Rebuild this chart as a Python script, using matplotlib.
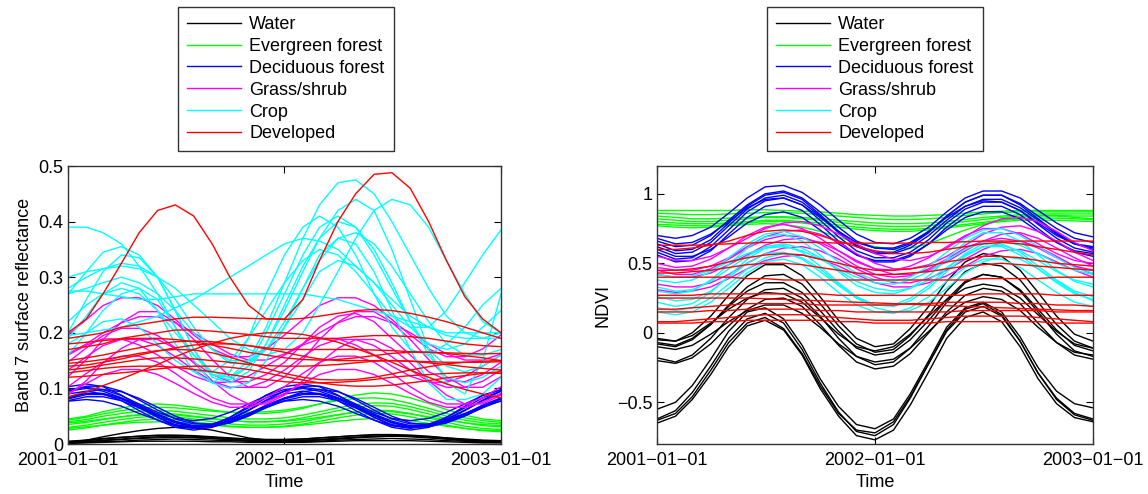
import matplotlib
matplotlib.use('Agg')
import matplotlib.pyplot as plt
import pandas as pd

################# DATOS ############################

# muestras mensuales de 2001-01-01 a 2003-01-01 (25 fechas)
FECHAS = pd.date_range('2001-01-01', '2003-01-01', freq='MS')

CLASES = ['Water', 'Evergreen forest', 'Deciduous forest', 'Grass/shrub', 'Crop', 'Developed']
COLORES = ['#000000', '#00ff00', '#0000ff', '#ff00ff', '#00ffff', '#ff0000']

TICKS_X = ['2001-01-01', '2002-01-01', '2003-01-01']
ETIQUETAS_X = ['2001\u221201\u221201', '2002\u221201\u221201', '2003\u221201\u221201']

TICKS_Y_B7 = [0, 0.1, 0.2, 0.3, 0.4, 0.5]
ETIQUETAS_Y_B7 = ['0', '0.1', '0.2', '0.3', '0.4', '0.5']
TICKS_Y_NDVI = [-0.5, 0, 0.5, 1]
ETIQUETAS_Y_NDVI = ['\u22120.5', '0', '0.5', '1']

################# PANEL 1: BANDA 7 ############################

AGUA_B7 = [
    [0.004,0.006,0.009,0.012,0.014,0.016,0.016,0.015,0.013,0.011,0.009,0.008,0.008,0.009,0.011,0.013,0.015,0.017,0.017,0.016,0.014,0.011,0.008,0.006,0.005],
    [0.003,0.004,0.006,0.008,0.010,0.011,0.012,0.011,0.010,0.008,0.007,0.006,0.006,0.007,0.008,0.010,0.012,0.013,0.014,0.013,0.011,0.009,0.007,0.005,0.004],
    [0.002,0.003,0.004,0.005,0.007,0.008,0.009,0.008,0.007,0.006,0.005,0.004,0.004,0.004,0.005,0.007,0.008,0.009,0.010,0.009,0.008,0.006,0.005,0.003,0.003],
    [0.003,0.007,0.013,0.019,0.024,0.028,0.030,0.029,0.025,0.018,0.011,0.007,0.006,0.006,0.007,0.009,0.011,0.013,0.014,0.014,0.012,0.010,0.007,0.005,0.004],
    [0.005,0.007,0.010,0.012,0.014,0.015,0.015,0.014,0.012,0.010,0.009,0.008,0.008,0.009,0.011,0.013,0.015,0.016,0.016,0.015,0.013,0.011,0.009,0.007,0.006],
    [0.001,0.002,0.003,0.004,0.005,0.005,0.005,0.005,0.004,0.004,0.003,0.003,0.003,0.003,0.004,0.005,0.006,0.006,0.006,0.006,0.005,0.004,0.003,0.002,0.002],
    [0.002,0.004,0.007,0.009,0.011,0.013,0.013,0.012,0.010,0.008,0.006,0.005,0.005,0.006,0.008,0.010,0.012,0.014,0.015,0.014,0.012,0.009,0.006,0.004,0.003],
]

PERENNE_B7 = [
    [0.045,0.050,0.058,0.065,0.070,0.072,0.070,0.066,0.061,0.057,0.055,0.055,0.058,0.064,0.072,0.081,0.088,0.092,0.090,0.083,0.073,0.062,0.052,0.045,0.042],
    [0.040,0.044,0.050,0.055,0.059,0.060,0.059,0.055,0.051,0.047,0.045,0.045,0.047,0.052,0.058,0.065,0.071,0.074,0.073,0.067,0.059,0.050,0.043,0.038,0.036],
    [0.035,0.039,0.044,0.049,0.053,0.055,0.054,0.050,0.046,0.042,0.040,0.040,0.042,0.047,0.053,0.060,0.066,0.069,0.068,0.062,0.054,0.045,0.038,0.033,0.031],
    [0.030,0.034,0.039,0.044,0.048,0.050,0.049,0.045,0.040,0.036,0.034,0.034,0.036,0.040,0.046,0.052,0.058,0.061,0.060,0.055,0.047,0.039,0.032,0.028,0.026],
    [0.025,0.029,0.034,0.039,0.043,0.045,0.044,0.040,0.036,0.032,0.030,0.030,0.032,0.036,0.041,0.047,0.052,0.055,0.054,0.049,0.042,0.034,0.028,0.024,0.022],
    [0.038,0.041,0.045,0.049,0.052,0.053,0.052,0.049,0.045,0.042,0.040,0.040,0.041,0.044,0.048,0.053,0.057,0.059,0.058,0.054,0.049,0.043,0.038,0.035,0.033],
    [0.043,0.048,0.054,0.060,0.064,0.066,0.065,0.062,0.059,0.057,0.057,0.058,0.061,0.066,0.072,0.078,0.082,0.083,0.080,0.073,0.064,0.055,0.047,0.042,0.039],
    [0.028,0.031,0.034,0.037,0.039,0.040,0.039,0.037,0.034,0.031,0.030,0.030,0.031,0.034,0.037,0.041,0.044,0.046,0.045,0.042,0.037,0.032,0.028,0.025,0.024],
]

CADUCIFOLIO_B7 = [
    [0.095,0.104,0.104,0.095,0.079,0.061,0.045,0.036,0.036,0.045,0.061,0.079,0.095,0.104,0.104,0.095,0.079,0.061,0.045,0.036,0.036,0.045,0.061,0.079,0.095],
    [0.095,0.100,0.095,0.083,0.065,0.048,0.035,0.030,0.035,0.048,0.065,0.083,0.095,0.100,0.095,0.083,0.065,0.048,0.035,0.030,0.035,0.048,0.065,0.083,0.095],
    [0.083,0.091,0.091,0.083,0.070,0.054,0.041,0.033,0.033,0.041,0.054,0.070,0.083,0.091,0.091,0.083,0.070,0.054,0.041,0.033,0.033,0.041,0.054,0.070,0.083],
    [0.090,0.095,0.090,0.078,0.060,0.043,0.030,0.025,0.030,0.043,0.060,0.078,0.090,0.095,0.090,0.078,0.060,0.043,0.030,0.025,0.030,0.043,0.060,0.078,0.090],
    [0.078,0.085,0.085,0.078,0.065,0.051,0.038,0.031,0.031,0.038,0.051,0.065,0.078,0.085,0.085,0.078,0.065,0.051,0.038,0.031,0.031,0.038,0.051,0.065,0.078],
    [0.103,0.108,0.103,0.088,0.068,0.048,0.033,0.028,0.033,0.048,0.068,0.088,0.103,0.108,0.103,0.088,0.068,0.048,0.033,0.028,0.033,0.048,0.068,0.088,0.097],
    [0.077,0.080,0.077,0.068,0.055,0.043,0.033,0.030,0.033,0.043,0.055,0.068,0.077,0.080,0.077,0.068,0.055,0.043,0.033,0.030,0.033,0.043,0.055,0.068,0.077],
    [0.082,0.094,0.098,0.094,0.082,0.066,0.050,0.038,0.034,0.038,0.050,0.066,0.082,0.094,0.098,0.094,0.082,0.066,0.050,0.038,0.034,0.038,0.050,0.066,0.082],
    [0.098,0.102,0.098,0.087,0.072,0.057,0.046,0.042,0.046,0.057,0.072,0.087,0.098,0.102,0.098,0.087,0.072,0.057,0.046,0.042,0.046,0.057,0.072,0.087,0.098],
    [0.081,0.089,0.089,0.081,0.068,0.052,0.039,0.031,0.031,0.039,0.052,0.068,0.081,0.089,0.089,0.081,0.068,0.052,0.039,0.031,0.031,0.039,0.052,0.068,0.081],
]

PASTO_B7 = [
    [0.196,0.224,0.249,0.263,0.263,0.249,0.224,0.196,0.171,0.157,0.157,0.171,0.196,0.224,0.249,0.263,0.263,0.249,0.224,0.196,0.171,0.157,0.157,0.171,0.196],
    [0.147,0.173,0.195,0.208,0.208,0.195,0.173,0.147,0.125,0.112,0.112,0.125,0.147,0.180,0.210,0.230,0.235,0.220,0.190,0.160,0.130,0.115,0.112,0.125,0.147],
    [0.088,0.114,0.146,0.172,0.188,0.188,0.172,0.146,0.114,0.088,0.072,0.072,0.088,0.114,0.146,0.172,0.188,0.188,0.172,0.146,0.114,0.088,0.072,0.072,0.088],
    [0.133,0.157,0.177,0.188,0.188,0.177,0.157,0.133,0.113,0.102,0.102,0.113,0.133,0.157,0.177,0.188,0.188,0.177,0.157,0.133,0.113,0.102,0.102,0.113,0.133],
    [0.121,0.152,0.188,0.219,0.238,0.238,0.219,0.188,0.152,0.121,0.102,0.102,0.121,0.152,0.188,0.219,0.238,0.238,0.219,0.188,0.152,0.121,0.102,0.102,0.121],
    [0.103,0.127,0.147,0.158,0.158,0.147,0.127,0.103,0.083,0.072,0.072,0.083,0.103,0.127,0.147,0.158,0.158,0.147,0.127,0.103,0.083,0.072,0.072,0.083,0.103],
    [0.160,0.178,0.189,0.189,0.178,0.160,0.140,0.122,0.111,0.111,0.122,0.140,0.160,0.178,0.189,0.189,0.178,0.160,0.140,0.122,0.111,0.111,0.122,0.140,0.160],
    [0.162,0.180,0.200,0.218,0.229,0.229,0.218,0.200,0.180,0.162,0.151,0.151,0.162,0.180,0.200,0.218,0.229,0.229,0.218,0.200,0.180,0.162,0.151,0.151,0.162],
    [0.091,0.109,0.125,0.134,0.134,0.125,0.109,0.091,0.075,0.066,0.066,0.075,0.091,0.109,0.125,0.134,0.134,0.125,0.109,0.091,0.075,0.066,0.066,0.075,0.091],
]

CULTIVO_B7 = [
    [0.390,0.390,0.380,0.360,0.320,0.270,0.210,0.160,0.125,0.120,0.150,0.210,0.290,0.370,0.430,0.470,0.475,0.450,0.400,0.340,0.280,0.230,0.200,0.190,0.200],
    [0.270,0.310,0.345,0.355,0.340,0.300,0.240,0.170,0.125,0.115,0.140,0.200,0.270,0.340,0.390,0.410,0.390,0.340,0.280,0.220,0.170,0.140,0.130,0.140,0.160],
    [0.200,0.260,0.310,0.340,0.335,0.300,0.240,0.170,0.120,0.110,0.130,0.180,0.250,0.320,0.370,0.400,0.390,0.350,0.290,0.220,0.160,0.120,0.110,0.120,0.140],
    [0.280,0.300,0.315,0.325,0.320,0.300,0.260,0.210,0.170,0.145,0.145,0.170,0.220,0.280,0.330,0.370,0.380,0.360,0.320,0.270,0.220,0.180,0.160,0.160,0.170],
    [0.300,0.310,0.315,0.320,0.315,0.300,0.280,0.250,0.220,0.190,0.170,0.160,0.170,0.200,0.250,0.310,0.370,0.420,0.440,0.430,0.390,0.330,0.270,0.220,0.200],
    [0.275,0.275,0.270,0.265,0.260,0.260,0.265,0.270,0.270,0.270,0.270,0.270,0.270,0.270,0.265,0.260,0.250,0.240,0.230,0.220,0.210,0.200,0.200,0.200,0.200],
    [0.195,0.200,0.205,0.210,0.220,0.230,0.245,0.260,0.280,0.300,0.320,0.340,0.360,0.370,0.365,0.350,0.320,0.290,0.260,0.230,0.210,0.195,0.190,0.190,0.190],
    [0.180,0.200,0.220,0.225,0.210,0.180,0.150,0.130,0.130,0.150,0.190,0.240,0.290,0.330,0.350,0.340,0.310,0.270,0.230,0.210,0.210,0.240,0.290,0.340,0.385],
    [0.160,0.200,0.240,0.270,0.280,0.260,0.210,0.150,0.110,0.100,0.110,0.150,0.210,0.280,0.340,0.370,0.360,0.310,0.240,0.170,0.110,0.080,0.080,0.090,0.120],
    [0.270,0.280,0.290,0.300,0.290,0.270,0.240,0.200,0.170,0.150,0.150,0.170,0.210,0.260,0.310,0.330,0.320,0.290,0.250,0.210,0.180,0.170,0.180,0.210,0.240],
    [0.220,0.250,0.270,0.280,0.270,0.240,0.200,0.160,0.130,0.120,0.140,0.180,0.240,0.310,0.370,0.420,0.440,0.420,0.350,0.260,0.170,0.110,0.090,0.150,0.270],
    [0.190,0.230,0.270,0.290,0.280,0.240,0.180,0.130,0.110,0.130,0.190,0.270,0.340,0.390,0.410,0.390,0.340,0.270,0.210,0.170,0.160,0.180,0.210,0.250,0.280],
]

URBANO_B7 = [
    [0.190,0.195,0.200,0.210,0.215,0.220,0.225,0.228,0.228,0.227,0.226,0.225,0.224,0.226,0.230,0.235,0.240,0.242,0.240,0.235,0.228,0.220,0.210,0.200,0.190],
    [0.170,0.175,0.180,0.190,0.195,0.200,0.205,0.205,0.203,0.200,0.197,0.193,0.190,0.190,0.190,0.190,0.193,0.195,0.195,0.193,0.190,0.185,0.180,0.177,0.175],
    [0.150,0.155,0.160,0.167,0.173,0.180,0.184,0.185,0.184,0.180,0.177,0.173,0.170,0.170,0.170,0.170,0.170,0.169,0.168,0.166,0.165,0.164,0.163,0.162,0.163],
    [0.140,0.142,0.147,0.153,0.160,0.167,0.173,0.178,0.180,0.180,0.177,0.171,0.165,0.158,0.153,0.150,0.150,0.150,0.150,0.149,0.148,0.147,0.147,0.147,0.148],
    [0.133,0.137,0.142,0.147,0.152,0.155,0.155,0.153,0.150,0.147,0.143,0.141,0.140,0.140,0.141,0.143,0.146,0.149,0.150,0.149,0.146,0.143,0.139,0.136,0.133],
    [0.128,0.132,0.136,0.139,0.140,0.140,0.138,0.134,0.130,0.125,0.120,0.116,0.112,0.110,0.110,0.111,0.113,0.116,0.120,0.123,0.125,0.127,0.128,0.128,0.127],
    [0.085,0.094,0.105,0.117,0.130,0.143,0.157,0.170,0.181,0.190,0.196,0.200,0.200,0.197,0.191,0.183,0.172,0.160,0.147,0.133,0.120,0.108,0.098,0.090,0.083],
    [0.180,0.183,0.186,0.189,0.190,0.190,0.188,0.184,0.178,0.172,0.165,0.160,0.155,0.152,0.151,0.152,0.155,0.159,0.163,0.165,0.165,0.163,0.159,0.155,0.150],
    [0.120,0.122,0.125,0.128,0.131,0.135,0.138,0.140,0.140,0.138,0.134,0.128,0.121,0.115,0.110,0.106,0.104,0.104,0.106,0.110,0.114,0.119,0.123,0.127,0.130],
    [0.145,0.148,0.152,0.157,0.163,0.168,0.170,0.169,0.164,0.156,0.146,0.136,0.127,0.120,0.116,0.115,0.116,0.120,0.126,0.133,0.139,0.144,0.147,0.149,0.150],
    [0.200,0.225,0.270,0.325,0.380,0.420,0.430,0.410,0.360,0.300,0.250,0.225,0.225,0.260,0.330,0.400,0.450,0.485,0.488,0.460,0.400,0.330,0.265,0.225,0.200],
]

################# PANEL 2: NDVI ############################

AGUA_NDVI = [
    [-0.62,-0.56,-0.43,-0.24,-0.04,0.10,0.14,0.07,-0.12,-0.36,-0.57,-0.71,-0.74,-0.66,-0.47,-0.22,0.02,0.17,0.21,0.13,-0.06,-0.29,-0.47,-0.58,-0.62],
    [-0.65,-0.60,-0.48,-0.30,-0.10,0.05,0.09,0.02,-0.16,-0.40,-0.60,-0.74,-0.77,-0.70,-0.52,-0.28,-0.04,0.11,0.15,0.08,-0.10,-0.33,-0.51,-0.61,-0.64],
    [-0.55,-0.50,-0.38,-0.19,0.01,0.15,0.18,0.10,-0.09,-0.33,-0.53,-0.66,-0.69,-0.62,-0.44,-0.20,0.04,0.18,0.22,0.15,-0.03,-0.25,-0.42,-0.51,-0.54],
    [-0.63,-0.58,-0.46,-0.27,-0.07,0.07,0.11,0.03,-0.15,-0.38,-0.58,-0.70,-0.72,-0.64,-0.46,-0.22,0.01,0.15,0.19,0.12,-0.06,-0.29,-0.48,-0.59,-0.63],
    [-0.05,-0.06,0.00,0.12,0.27,0.41,0.49,0.49,0.41,0.26,0.09,-0.04,-0.10,-0.08,0.03,0.19,0.37,0.51,0.57,0.55,0.45,0.29,0.12,-0.01,-0.06],
    [-0.08,-0.10,-0.05,0.06,0.20,0.33,0.41,0.42,0.35,0.21,0.05,-0.08,-0.14,-0.12,-0.02,0.13,0.30,0.44,0.50,0.48,0.38,0.22,0.06,-0.06,-0.11],
    [-0.18,-0.21,-0.16,-0.04,0.11,0.24,0.31,0.32,0.25,0.12,-0.04,-0.17,-0.23,-0.21,-0.11,0.05,0.22,0.36,0.42,0.40,0.30,0.15,-0.01,-0.13,-0.17],
    [-0.20,-0.22,-0.18,-0.08,0.05,0.17,0.24,0.25,0.19,0.06,-0.09,-0.21,-0.26,-0.24,-0.15,0.00,0.15,0.27,0.32,0.30,0.21,0.07,-0.07,-0.16,-0.19],
    [-0.07,-0.09,-0.04,0.06,0.19,0.30,0.36,0.36,0.29,0.16,0.01,-0.11,-0.16,-0.14,-0.05,0.09,0.24,0.37,0.42,0.40,0.31,0.17,0.02,-0.09,-0.13],
    [-0.10,-0.12,-0.09,-0.01,0.08,0.16,0.20,0.20,0.14,0.04,-0.08,-0.17,-0.21,-0.19,-0.11,0.01,0.13,0.22,0.26,0.24,0.16,0.04,-0.07,-0.14,-0.16],
    [-0.04,-0.06,-0.02,0.07,0.17,0.25,0.29,0.28,0.22,0.11,-0.01,-0.10,-0.13,-0.10,-0.01,0.12,0.24,0.32,0.35,0.33,0.25,0.13,0.01,-0.08,-0.11],
]

PERENNE_NDVI = [
    [0.880,0.880,0.880,0.880,0.880,0.885,0.885,0.880,0.875,0.870,0.860,0.850,0.845,0.840,0.840,0.845,0.850,0.860,0.870,0.875,0.880,0.880,0.880,0.880,0.880],
    [0.860,0.855,0.850,0.850,0.855,0.860,0.865,0.865,0.860,0.850,0.840,0.830,0.820,0.815,0.815,0.820,0.830,0.845,0.855,0.865,0.870,0.870,0.870,0.870,0.870],
    [0.840,0.830,0.820,0.820,0.825,0.830,0.835,0.835,0.830,0.820,0.810,0.800,0.790,0.785,0.785,0.790,0.800,0.815,0.830,0.840,0.850,0.855,0.855,0.855,0.855],
    [0.820,0.810,0.800,0.800,0.810,0.820,0.830,0.830,0.820,0.810,0.795,0.780,0.770,0.765,0.765,0.770,0.785,0.800,0.815,0.830,0.840,0.845,0.845,0.840,0.840],
    [0.800,0.790,0.785,0.785,0.790,0.800,0.810,0.810,0.800,0.790,0.775,0.760,0.750,0.745,0.745,0.750,0.765,0.780,0.795,0.810,0.820,0.825,0.825,0.820,0.815],
    [0.780,0.775,0.770,0.770,0.780,0.790,0.800,0.800,0.790,0.775,0.760,0.745,0.735,0.730,0.730,0.740,0.755,0.770,0.785,0.800,0.810,0.810,0.810,0.805,0.800],
    [0.770,0.760,0.755,0.760,0.770,0.780,0.785,0.780,0.760,0.730,0.690,0.650,0.620,0.600,0.610,0.640,0.690,0.740,0.780,0.810,0.830,0.840,0.840,0.830,0.820],
]

CADUCIFOLIO_NDVI = [
    [0.70,0.68,0.70,0.76,0.86,0.97,1.05,1.06,1.01,0.92,0.81,0.71,0.65,0.64,0.68,0.76,0.87,0.97,1.02,1.02,0.97,0.88,0.79,0.72,0.69],
    [0.66,0.62,0.63,0.70,0.81,0.92,1.00,1.02,0.97,0.87,0.76,0.66,0.61,0.60,0.64,0.73,0.84,0.94,0.99,0.99,0.93,0.84,0.75,0.68,0.65],
    [0.62,0.57,0.58,0.65,0.77,0.89,0.97,0.99,0.94,0.84,0.72,0.62,0.57,0.57,0.61,0.70,0.81,0.91,0.96,0.96,0.90,0.81,0.71,0.64,0.61],
    [0.58,0.53,0.54,0.62,0.74,0.87,0.95,0.97,0.92,0.81,0.69,0.59,0.54,0.54,0.58,0.67,0.79,0.89,0.94,0.94,0.88,0.78,0.68,0.61,0.58],
    [0.56,0.51,0.52,0.59,0.71,0.83,0.91,0.93,0.88,0.78,0.66,0.56,0.51,0.51,0.55,0.64,0.76,0.86,0.91,0.91,0.85,0.75,0.65,0.58,0.55],
    [0.68,0.64,0.65,0.71,0.80,0.90,0.96,0.97,0.92,0.83,0.73,0.65,0.61,0.61,0.65,0.73,0.83,0.91,0.95,0.94,0.88,0.79,0.70,0.64,0.62],
    [0.60,0.55,0.55,0.60,0.69,0.79,0.85,0.87,0.83,0.74,0.64,0.56,0.52,0.52,0.56,0.64,0.74,0.83,0.87,0.87,0.82,0.73,0.65,0.59,0.57],
    [0.64,0.59,0.60,0.67,0.79,0.91,0.99,1.01,0.96,0.85,0.73,0.63,0.58,0.58,0.63,0.72,0.84,0.94,0.99,0.99,0.92,0.82,0.72,0.64,0.60],
]

PASTO_NDVI = [
    [0.55,0.52,0.52,0.55,0.61,0.68,0.75,0.79,0.80,0.77,0.71,0.64,0.57,0.53,0.52,0.55,0.61,0.69,0.77,0.82,0.83,0.80,0.73,0.65,0.59],
    [0.47,0.45,0.45,0.48,0.54,0.62,0.69,0.73,0.74,0.71,0.65,0.57,0.50,0.46,0.46,0.49,0.55,0.63,0.71,0.76,0.77,0.73,0.66,0.58,0.52],
    [0.42,0.40,0.40,0.43,0.49,0.56,0.63,0.67,0.68,0.65,0.59,0.52,0.46,0.42,0.42,0.45,0.51,0.59,0.66,0.71,0.72,0.68,0.61,0.54,0.48],
    [0.35,0.33,0.33,0.36,0.42,0.50,0.57,0.61,0.62,0.59,0.53,0.46,0.40,0.36,0.36,0.39,0.45,0.53,0.60,0.65,0.66,0.62,0.55,0.48,0.42],
    [0.50,0.47,0.48,0.53,0.61,0.70,0.76,0.78,0.75,0.68,0.59,0.51,0.46,0.45,0.48,0.54,0.62,0.70,0.75,0.75,0.71,0.64,0.57,0.52,0.50],
    [0.31,0.29,0.30,0.33,0.39,0.46,0.52,0.55,0.56,0.53,0.48,0.42,0.36,0.33,0.33,0.36,0.41,0.48,0.55,0.59,0.60,0.57,0.51,0.45,0.40],
    [0.45,0.42,0.42,0.46,0.53,0.61,0.67,0.70,0.69,0.64,0.56,0.48,0.42,0.40,0.41,0.46,0.53,0.61,0.66,0.68,0.66,0.61,0.54,0.48,0.45],
]

CULTIVO_NDVI = [
    [0.30,0.28,0.30,0.38,0.49,0.61,0.69,0.71,0.66,0.56,0.44,0.34,0.29,0.28,0.32,0.41,0.53,0.65,0.72,0.72,0.66,0.56,0.45,0.37,0.33],
    [0.22,0.19,0.21,0.29,0.41,0.53,0.61,0.63,0.58,0.48,0.36,0.26,0.20,0.19,0.23,0.32,0.44,0.55,0.62,0.62,0.56,0.46,0.36,0.28,0.24],
    [0.15,0.13,0.15,0.22,0.32,0.43,0.51,0.53,0.49,0.40,0.29,0.20,0.15,0.14,0.18,0.26,0.37,0.47,0.53,0.53,0.47,0.38,0.29,0.22,0.19],
    [0.38,0.36,0.38,0.44,0.54,0.64,0.71,0.73,0.69,0.61,0.51,0.43,0.38,0.37,0.40,0.48,0.58,0.68,0.74,0.75,0.70,0.62,0.54,0.47,0.43],
    [0.26,0.23,0.24,0.30,0.40,0.50,0.57,0.58,0.53,0.44,0.34,0.25,0.20,0.20,0.25,0.34,0.46,0.57,0.64,0.64,0.58,0.48,0.38,0.30,0.26],
    [0.33,0.30,0.31,0.37,0.46,0.55,0.62,0.64,0.61,0.54,0.45,0.37,0.32,0.30,0.32,0.38,0.47,0.56,0.62,0.63,0.59,0.52,0.44,0.38,0.35],
    [0.18,0.16,0.18,0.25,0.35,0.46,0.54,0.57,0.54,0.46,0.35,0.25,0.18,0.15,0.16,0.22,0.32,0.43,0.51,0.55,0.53,0.46,0.37,0.29,0.23],
    [0.42,0.40,0.41,0.45,0.51,0.57,0.61,0.62,0.59,0.53,0.46,0.40,0.36,0.35,0.38,0.44,0.52,0.60,0.65,0.66,0.63,0.57,0.50,0.45,0.42],
]

URBANO_NDVI = [
    [0.630,0.630,0.630,0.635,0.640,0.645,0.650,0.650,0.650,0.650,0.645,0.645,0.645,0.645,0.645,0.650,0.650,0.655,0.660,0.660,0.660,0.660,0.660,0.660,0.660],
    [0.60,0.60,0.61,0.63,0.66,0.70,0.73,0.74,0.73,0.70,0.66,0.62,0.59,0.57,0.57,0.58,0.60,0.62,0.64,0.65,0.64,0.62,0.60,0.58,0.56],
    [0.45,0.45,0.46,0.48,0.51,0.54,0.56,0.57,0.56,0.53,0.50,0.47,0.45,0.45,0.46,0.48,0.51,0.53,0.55,0.55,0.54,0.52,0.50,0.49,0.48],
    [0.43,0.43,0.44,0.45,0.47,0.49,0.50,0.50,0.49,0.47,0.45,0.43,0.42,0.42,0.43,0.44,0.46,0.48,0.49,0.50,0.49,0.48,0.47,0.46,0.45],
    [0.40,0.40,0.40,0.40,0.40,0.39,0.39,0.38,0.38,0.38,0.38,0.38,0.38,0.38,0.38,0.38,0.38,0.38,0.39,0.39,0.39,0.39,0.40,0.40,0.40],
    [0.27,0.27,0.27,0.28,0.28,0.28,0.28,0.28,0.28,0.28,0.27,0.27,0.27,0.27,0.27,0.27,0.27,0.27,0.28,0.28,0.28,0.28,0.27,0.27,0.27],
    [0.250,0.250,0.250,0.250,0.250,0.250,0.245,0.240,0.235,0.230,0.225,0.220,0.215,0.210,0.205,0.200,0.195,0.190,0.185,0.180,0.175,0.170,0.165,0.160,0.160],
    [0.17,0.17,0.18,0.19,0.20,0.21,0.21,0.21,0.21,0.20,0.20,0.20,0.20,0.20,0.21,0.21,0.22,0.22,0.22,0.22,0.21,0.21,0.20,0.20,0.19],
    [0.15,0.15,0.15,0.16,0.16,0.17,0.17,0.17,0.17,0.16,0.16,0.15,0.15,0.15,0.15,0.15,0.15,0.16,0.16,0.16,0.16,0.16,0.15,0.15,0.15],
    [0.08,0.08,0.09,0.10,0.11,0.12,0.13,0.13,0.13,0.12,0.11,0.10,0.09,0.09,0.09,0.10,0.11,0.12,0.12,0.12,0.12,0.11,0.10,0.09,0.08],
    [0.07,0.07,0.07,0.08,0.08,0.09,0.09,0.09,0.09,0.09,0.08,0.08,0.07,0.07,0.07,0.07,0.08,0.08,0.08,0.08,0.08,0.08,0.07,0.07,0.07],
]

SERIES_B7 = [AGUA_B7, PERENNE_B7, CADUCIFOLIO_B7, PASTO_B7, CULTIVO_B7, URBANO_B7]
SERIES_NDVI = [AGUA_NDVI, PERENNE_NDVI, CADUCIFOLIO_NDVI, PASTO_NDVI, CULTIVO_NDVI, URBANO_NDVI]

################# GRAFICA ############################

plt.rcParams['font.family'] = ['Liberation Sans', 'DejaVu Sans']
TAM_LETRA = 13


def dibujar_panel(ax, series, ylim, yticks, yetiquetas, ylabel, x_leyenda):
    for clase, color, curvas in zip(CLASES, COLORES, series):
        for i, valores in enumerate(curvas):
            ax.plot(FECHAS, valores, color=color, lw=1.0, label=clase if i == 0 else None)

    ax.set_xlim(FECHAS[0], FECHAS[-1])
    ax.set_ylim(*ylim)
    ax.set_xticks(pd.to_datetime(TICKS_X))
    ax.set_xticklabels(ETIQUETAS_X)
    ax.set_yticks(yticks)
    ax.set_yticklabels(yetiquetas)
    ax.tick_params(direction='in', top=True, right=True, length=5, width=0.8,
                   labelsize=TAM_LETRA)
    ax.tick_params(axis='x', pad=6)
    ax.tick_params(axis='y', pad=3.5)
    ax.set_xlabel('Time', fontsize=TAM_LETRA, labelpad=3)
    ax.set_ylabel(ylabel, fontsize=TAM_LETRA, labelpad=4)
    for borde in ax.spines.values():
        borde.set_color('#333333')
        borde.set_linewidth(1.0)

    ax.legend(loc='upper left', bbox_to_anchor=(x_leyenda, 1 - 7 / 494),
              bbox_transform=ax.figure.transFigure, borderaxespad=0,
              fancybox=False, edgecolor='#333333', framealpha=1,
              fontsize=TAM_LETRA, handlelength=3.0, handletextpad=0.45,
              labelspacing=0.27, borderpad=0.5)


fig = plt.figure(figsize=(11.48, 4.94), dpi=100)
ax1 = fig.add_axes([68 / 1148, 50 / 494, 433 / 1148, 278 / 494])
ax2 = fig.add_axes([657 / 1148, 50 / 494, 436 / 1148, 278 / 494])

dibujar_panel(ax1, SERIES_B7, (0, 0.5), TICKS_Y_B7, ETIQUETAS_Y_B7,
              'Band 7 surface reflectance', 178 / 1148)
dibujar_panel(ax2, SERIES_NDVI, (-0.8, 1.2), TICKS_Y_NDVI, ETIQUETAS_Y_NDVI,
              'NDVI', 767 / 1148)

fig.savefig('out.png', dpi=100)
